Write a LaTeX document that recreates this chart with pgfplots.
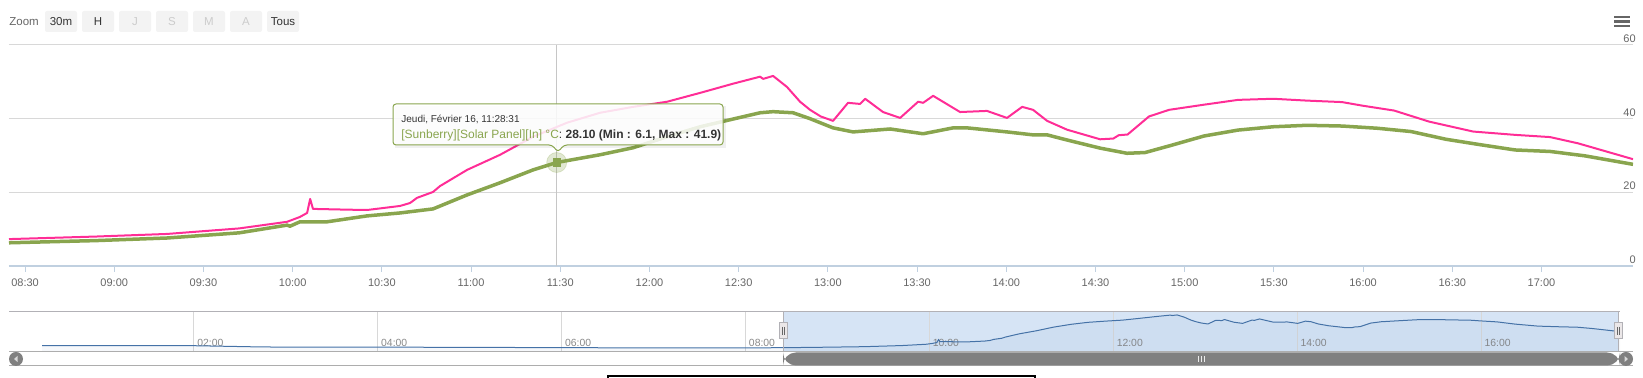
\documentclass[border=0pt]{standalone}
\usepackage{fontspec}
\setmainfont{Liberation Sans}
\usepackage{pgfplots}
\usepackage{pgfplotstable}
\pgfplotsset{compat=1.18}
\definecolor{pinkline}{HTML}{FF2D96}
\definecolor{greenline}{HTML}{89A54E}
\definecolor{navblue}{HTML}{4572A7}
\definecolor{gridc}{HTML}{D8D8D8}
\definecolor{axisc}{HTML}{C0D0E0}
\definecolor{labc}{HTML}{666666}
\definecolor{darkc}{HTML}{333333}
\definecolor{maskc}{HTML}{D6E4F5}
\definecolor{btnc}{HTML}{F3F3F3}
\definecolor{disc}{HTML}{CCCCCC}
\definecolor{handlec}{HTML}{EBE7E8}
\definecolor{outlc}{HTML}{B2B1B6}
\definecolor{scrollc}{HTML}{808080}
\definecolor{navlab}{HTML}{888888}

\pgfplotstableread{
h v
8.410 7.3
8.900 8.0
9.296 8.7
9.700 10.2
9.969 12.0
10.040 13.3
10.081 14.4
10.098 18.2
10.114 15.5
10.300 15.3
10.417 15.2
10.602 16.3
10.658 17.1
10.697 18.5
10.787 20.1
10.826 21.7
10.978 26.1
11.163 30.2
11.348 35.1
11.538 38.9
11.723 41.6
11.908 43.2
12.099 44.6
12.284 47.0
12.469 49.5
12.620 51.4
12.637 50.8
12.693 51.6
12.771 48.6
12.844 44.6
12.900 42.4
12.960 40.6
13.029 39.4
13.113 44.3
13.180 44.0
13.209 45.4
13.309 41.8
13.405 40.2
13.506 44.6
13.534 44.3
13.590 46.2
13.741 41.8
13.892 42.1
14.004 40.2
14.089 43.2
14.150 42.4
14.229 39.4
14.341 37.0
14.526 34.4
14.600 34.6
14.630 35.5
14.680 35.7
14.800 40.6
14.913 42.4
15.109 43.8
15.299 45.1
15.496 45.4
15.686 44.9
15.882 44.5
16.000 43.5
16.174 42.2
16.370 39.2
16.617 36.5
16.852 35.6
17.048 35.0
17.205 33.3
17.513 29.0
}\pinkdata

\pgfplotstableread{
h v
8.410 6.3
8.900 6.9
9.296 7.6
9.700 9.0
9.969 11.1
9.985 10.8
10.041 12.0
10.193 12.0
10.417 13.6
10.602 14.4
10.787 15.5
10.978 19.3
11.163 22.6
11.348 26.1
11.480 28.1
11.723 30.2
11.908 32.1
12.099 35.1
12.284 37.8
12.469 39.9
12.620 41.6
12.693 41.9
12.805 41.6
12.900 40.0
13.029 37.5
13.141 36.4
13.220 36.7
13.349 37.2
13.534 35.9
13.702 37.5
13.780 37.5
14.004 36.4
14.150 35.6
14.229 35.6
14.341 34.2
14.526 32.0
14.677 30.6
14.778 30.8
14.913 32.6
15.109 35.3
15.299 36.9
15.496 37.8
15.686 38.2
15.882 38.0
16.079 37.4
16.269 36.5
16.465 34.4
16.661 32.9
16.852 31.5
17.048 31.1
17.244 29.9
17.513 27.6
}\greendata

\pgfplotstableread{
h v
0.35 10.0
2.00 10.0
2.74 8.3
3.30 8.0
4.24 8.0
6.00 7.4
6.96 7.0
8.00 7.1
8.41 7.3
}\nightdata

\begin{document}
\begin{tikzpicture}
\useasboundingbox (0,0) rectangle (821.5pt,189pt);
% ---------- background decorations in px coordinates ----------
\begin{scope}[yshift=189pt, x=0.5pt, y=-0.5pt]
  % zoom buttons
  \node[anchor=west, inner sep=0, text=labc, font=\fontsize{5.75}{6}\selectfont] at (9,21.5) {Zoom};
  \foreach \a/\b/\t/\c in {45/77/30m/darkc, 82/114/H/darkc, 119/151/J/disc, 156/188/S/disc, 193/225/M/disc, 230/262/A/disc, 267/299/Tous/darkc}{
    \fill[btnc, rounded corners=1pt] (\a,11) rectangle (\b,32);
    \node[inner sep=0, text=\c, font=\fontsize{5.75}{6}\selectfont] at ({(\a+\b)/2},21.5) {\t};
  }
  % menu icon
  \foreach \yy in {17,21.5,26}{
    \draw[labc, line width=1.2pt] (1614,\yy) -- (1630,\yy);
  }
  % navigator mask
  \fill[maskc] (783,312) rectangle (1618,352);
\end{scope}

% ---------- main chart ----------
\begin{axis}[
  at={(4.5pt,56pt)}, anchor=south west, scale only axis,
  width=812pt, height=110.5pt,
  xmin=8.41, xmax=17.513, ymin=0, ymax=60,
  axis x line*=bottom, axis y line*=right,
  x axis line style={draw=axisc, line width=0.6pt},
  y axis line style={draw=none},
  xtick={8.5,9,9.5,10,10.5,11,11.5,12,12.5,13,13.5,14,14.5,15,15.5,16,16.5,17},
  xticklabels={08:30,09:00,09:30,10:00,10:30,11:00,11:30,12:00,12:30,13:00,13:30,14:00,14:30,15:00,15:30,16:00,16:30,17:00},
  tick align=outside, major tick length=3pt,
  xtick style={draw=axisc, line width=0.5pt},
  ytick={0,20,40,60}, ytick style={draw=none},
  /pgf/number format/assume math mode=true,
  ymajorgrids, grid style={draw=gridc, line width=0.5pt},
  xticklabel style={font=\fontsize{5.5}{6}\selectfont, text=labc},
  yticklabel style={font=\fontsize{5.5}{6}\selectfont, text=labc, anchor=south east, inner sep=1pt, xshift=-0.5pt},
]
\draw[gray!45, line width=0.5pt] (axis cs:11.48,0) -- (axis cs:11.48,60);
\addplot[pinkline, line width=1pt, line join=round] table {\pinkdata};
\addplot[greenline, line width=1.75pt, line join=round] table {\greendata};
\addplot[only marks, mark=*, mark size=5pt, greenline, opacity=0.25, mark options={draw=none}] coordinates {(11.48,28.1)};
\addplot[only marks, mark=square*, mark size=1.8pt, greenline] coordinates {(11.48,28.1)};
\end{axis}

% ---------- navigator ----------
\begin{axis}[
  at={(4.5pt,13pt)}, anchor=south west, scale only axis,
  width=805.5pt, height=20pt,
  xmin=-0.011, xmax=17.51, ymin=1.5, ymax=55.6,
  axis line style={draw=none},
  xtick={2,4,6,8,10,12,14,16},
  xticklabels={02:00,04:00,06:00,08:00,10:00,12:00,14:00,16:00},
  xtick style={draw=none}, ytick=\empty,
  xmajorgrids, grid style={draw=gridc, line width=0.5pt},
  xticklabel style={font=\fontsize{5.2}{6}\selectfont, text=navlab, anchor=south west, inner sep=1pt, xshift=0.5pt, yshift=1.5pt},
]
\addplot[draw=none, fill=navblue, fill opacity=0.05] table {\nightdata} \closedcycle;
\addplot[draw=none, fill=navblue, fill opacity=0.05] table {\pinkdata} \closedcycle;
\addplot[navblue, line width=0.5pt] table {\nightdata};
\addplot[navblue, line width=0.5pt] table {\pinkdata};
\end{axis}

% ---------- overlay decorations ----------
\begin{scope}[yshift=189pt, x=0.5pt, y=-0.5pt]
  % tooltip
  \fill[black, opacity=0.06] (395,106) rectangle (726,148);
  \filldraw[fill=white, fill opacity=0.85, draw=greenline, line width=0.5pt, rounded corners=1.5pt]
    (393,104) -- (723,104) -- (723,145) -- (564,145) -- (558,152) -- (552,145) -- (393,145) -- cycle;
  \node[anchor=base west, inner sep=0, text=darkc, font=\fontsize{5}{6}\selectfont] at (401,122.5) {Jeudi, Février 16, 11:28:31};
  \node[anchor=base west, inner sep=0, text=darkc, font=\fontsize{6}{7}\selectfont] at (401,138.3)
    {{\color{greenline}[Sunberry][Solar Panel][In] °C}: \textbf{28.10 (Min : 6.1, Max : 41.9)}};
  % navigator outline
  \draw[outlc, line width=0.5pt] (9,312) -- (1620,312);
  \draw[outlc, line width=0.5pt] (783,312) -- (783,352);
  \draw[outlc, line width=0.5pt] (1618,312) -- (1618,352);
  % handles
  \foreach \hx in {783,1618}{
    \filldraw[fill=handlec, draw=outlc, line width=0.5pt] (\hx-4,323) rectangle (\hx+4,339);
    \draw[labc, line width=0.4pt] (\hx-1,327) -- (\hx-1,335);
    \draw[labc, line width=0.4pt] (\hx+1,327) -- (\hx+1,335);
  }
  % scrollbar
  \draw[gridc!80!black, line width=0.5pt] (9,352) -- (1633,352);
  \draw[gridc!80!black, line width=0.5pt] (9,366) -- (1633,366);
  \fill[scrollc, rounded corners=6.5pt] (783,352.5) rectangle (1620,365.5);
  \foreach \gx in {1198,1201,1204}{
    \draw[white!85!gray, line width=0.4pt] (\gx,356) -- (\gx,362);
  }
  \fill[scrollc] (16,359) circle (7);
  \fill[white!70!gray] (17.5,356) -- (17.5,362) -- (14,359) -- cycle;
  \fill[scrollc] (1626,359) circle (7);
  \fill[white!70!gray] (1624.5,356) -- (1624.5,362) -- (1628,359) -- cycle;
  % black box at bottom
  \draw[black, line width=1pt] (608,380) -- (608,376) -- (1035,376) -- (1035,380);
\end{scope}
\end{tikzpicture}
\end{document}
